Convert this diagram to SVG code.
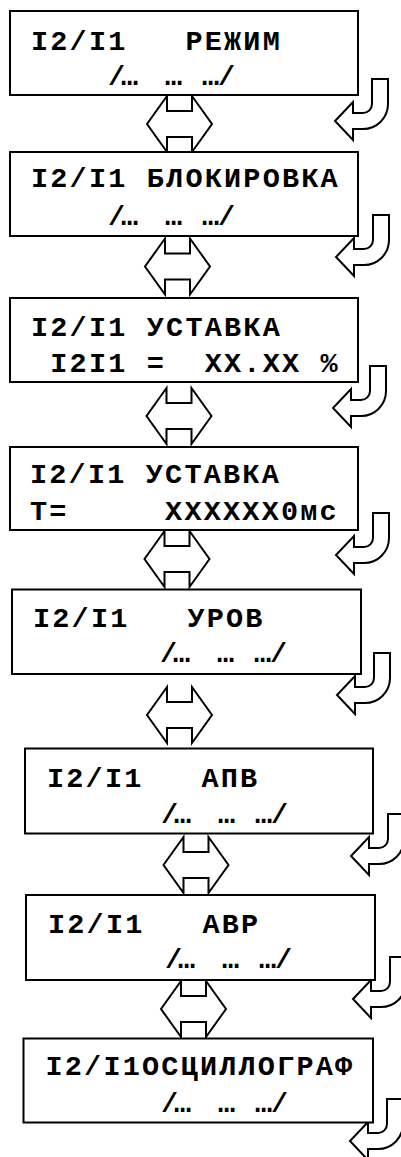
<svg xmlns="http://www.w3.org/2000/svg" xmlns:xlink="http://www.w3.org/1999/xlink" width="401" height="1157" viewBox="0 0 401 1157" xml:space="preserve">
<style>
.box{fill:#fff;stroke:#000;stroke-width:2}
.t{font-family:"Liberation Mono","Courier New",monospace;font-weight:bold;font-size:28.5px;letter-spacing:2.2px;fill:#000;white-space:pre}
.arr{fill:#fff;stroke:#000;stroke-width:2;stroke-linejoin:miter}
</style>
<defs>
<path id="dbl" d="M-12.5,-28 V-13 H12.5 V-28 L32.5,0 L12.5,28 V13 H-12.5 V28 L-32.5,0 Z"/>
<path id="crv" d="M37,-42 H53 V-17 A25,25 0 0 1 28,8 H18 V19 L0,0 L18,-19 V-8 H28 A9,9 0 0 0 37,-17 Z"/>
</defs>
<rect width="401" height="1157" fill="#fff"/>
<g id="connectors">
<use xlink:href="#dbl" class="arr" transform="translate(179.5,124)"/>
<use xlink:href="#dbl" class="arr" transform="translate(177.5,266.5)"/>
<use xlink:href="#dbl" class="arr" transform="translate(179,416)"/>
<use xlink:href="#dbl" class="arr" transform="translate(177,559)"/>
<use xlink:href="#dbl" class="arr" transform="translate(179.5,715)"/>
<use xlink:href="#dbl" class="arr" transform="translate(196,865)"/>
<use xlink:href="#dbl" class="arr" transform="translate(193.5,1009)"/>
<use xlink:href="#crv" class="arr" transform="translate(335,121)"/>
<use xlink:href="#crv" class="arr" transform="translate(336,257)"/>
<use xlink:href="#crv" class="arr" transform="translate(333,408)"/>
<use xlink:href="#crv" class="arr" transform="translate(336,555)"/>
<use xlink:href="#crv" class="arr" transform="translate(337,695)"/>
<use xlink:href="#crv" class="arr" transform="translate(351,856)"/>
<use xlink:href="#crv" class="arr" transform="translate(353,999)"/>
<use xlink:href="#crv" class="arr" transform="translate(350,1141)"/>
</g>
<g id="n1">
<rect class="box" x="10" y="11" width="348" height="84"/>
<text class="t" x="31" y="50">I2/I1   РЕЖИМ</text>
<text class="t" x="108 121 145 165 185 202 218" y="85">/… … …/</text>
</g>
<g id="n2">
<rect class="box" x="10" y="152" width="348" height="84"/>
<text class="t" x="31" y="187">I2/I1 БЛОКИРОВКА</text>
<text class="t" x="108 121 145 165 185 202 218" y="225">/… … …/</text>
</g>
<g id="n3">
<rect class="box" x="10" y="298" width="348" height="84"/>
<text class="t" x="31" y="336">I2/I1 УСТАВКА</text>
<text class="t" x="31" y="372"> I2I1 =  XX.XX %</text>
</g>
<g id="n4">
<rect class="box" x="10" y="447" width="348" height="83"/>
<text class="t" x="30" y="483">I2/I1 УСТАВКА</text>
<text class="t" x="30" y="520">T=     XXXXXX0мс</text>
</g>
<g id="n5">
<rect class="box" x="12" y="589.5" width="349" height="84.5"/>
<text class="t" x="33" y="627">I2/I1   УРОВ</text>
<text class="t" x="160 173 197 217 237 254 270" y="662">/… … …/</text>
</g>
<g id="n6">
<rect class="box" x="25" y="748.5" width="348" height="85"/>
<text class="t" x="47" y="787">I2/I1   АПВ</text>
<text class="t" x="161 174 198 218 238 255 271" y="823">/… … …/</text>
</g>
<g id="n7">
<rect class="box" x="26" y="895" width="349" height="85"/>
<text class="t" x="48" y="933">I2/I1   АВР</text>
<text class="t" x="165 178 202 222 242 259 275" y="968">/… … …/</text>
</g>
<g id="n8">
<rect class="box" x="23.5" y="1038.5" width="349.5" height="84"/>
<text class="t" x="45.5" y="1075">I2/I1ОСЦИЛЛОГРАФ</text>
<text class="t" x="161 174 198 218 238 255 271" y="1112">/… … …/</text>
</g>
</svg>
